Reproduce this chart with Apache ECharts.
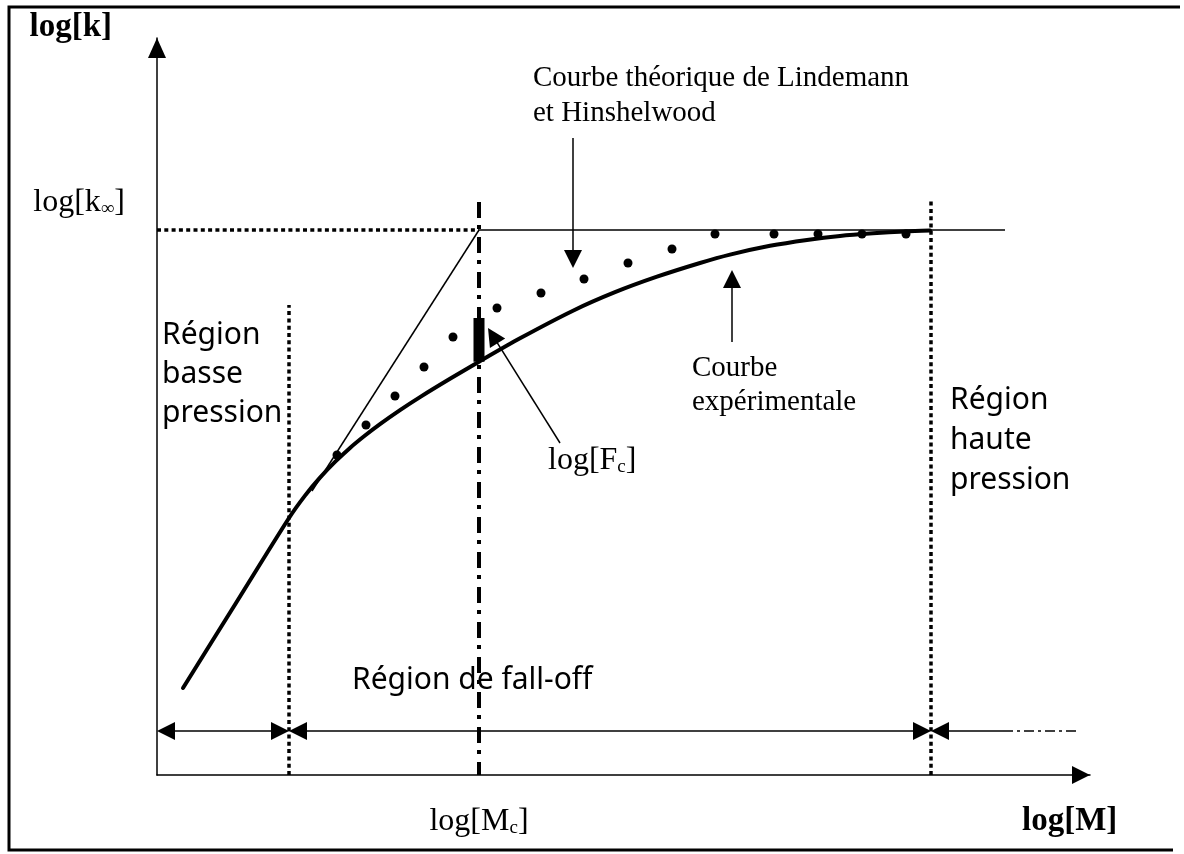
<!DOCTYPE html>
<html lang="fr">
<head>
<meta charset="utf-8">
<title>Régions de pression et courbe de fall-off</title>
<script src="https://cdn.jsdelivr.net/npm/echarts@6.0.0/dist/echarts.min.js"></script>
<style>
  html, body { margin: 0; padding: 0; background: #fff; }
  #chart { width: 1184px; height: 854px; }
</style>
</head>
<body>
<div id="chart"></div>
<script>
// Schematic units: log[M] along x, log[k] along y, both counted from the axis origin.
const X_MAX = 93.3;
const Y_MAX = 73.7;

const LOG_K_INF = 54.5;      // high-pressure limit, log[k∞]
const LOG_MC = 32.2;         // centre of the fall-off region, log[Mc]
const LOW_LIMIT = 13.2;      // end of the low-pressure region
const HIGH_LIMIT = 77.4;     // start of the high-pressure region
const K_INF_LINE_END = 84.8; // end of the solid high-pressure asymptote

const xTickLabels = ['log[M{s|c}]'];
const yTickLabels = ['log[k{s|∞}]'];

// measured (experimental) fall-off curve
const experimentalX = [2.6, 7.9, 13.2, 14.8, 16.3, 17.8, 19.3, 20.8, 22.3, 24.3, 26.3, 29.3, 32.2,
                       36.3, 41.6, 45.8, 50.0, 54.3, 57.3, 61.3, 65.0, 68.3, 71.6, 74.8, 77.3];
const experimentalY = [8.7, 17.2, 25.7, 27.94, 29.74, 31.31, 32.71, 33.95, 35.09, 36.49, 37.79, 39.62, 41.33,
                       43.67, 46.43, 48.28, 49.83, 51.2, 52.04, 52.92, 53.51, 53.91, 54.17, 54.36, 54.46];

// Lindemann–Hinshelwood theoretical curve (dotted)
const lindemannX = [18.0, 20.9, 23.8, 26.7, 29.6, 34.0, 38.4, 42.7, 47.1, 51.5, 55.8, 61.7, 66.1, 70.5, 74.9];
const lindemannY = [32.0, 35.0, 37.9, 40.8, 43.8, 46.7, 48.2, 49.6, 51.2, 52.6, 54.1, 54.1, 54.1, 54.1, 54.1];

// low-pressure asymptote, from where it leaves the curve up to the corner at log[Mc]
const lowAsymptoteX = [15.5, 32.2];
const lowAsymptoteY = [28.4, 54.5];

// log[Fc] bar drawn at log[Mc], standing on the experimental curve
const fcBarY = [41.33, 45.7];

// tops of the vertical boundary lines
const lowLimitTop = 47.0;
const mcLineTop = 57.3;
const highLimitTop = 57.5;

// region arrows along the bottom
const REGION_ARROW_Y = 4.4;
const regionArrowSolidEnd = 84.6;
const regionArrowFadeEnd = 92.0;

// annotation pointers: [tailX, tailY, tipX, tipY]
const pointerLindemann = [41.6, 63.7, 41.6, 50.7];
const pointerExperimental = [57.5, 43.3, 57.5, 50.5];
const pointerFc = [40.3, 33.2, 33.1, 44.7];

const INK = '#000';
const SERIF = '"Liberation Serif", "Times New Roman", serif';
const HAND = '"Comic Sans MS", "Noto Sans", sans-serif';
const GRID = { left: 157, right: 94, top: 38, bottom: 79 };
const HEAD = 18;

const el = document.getElementById('chart');
const chart = echarts.init(el, null, { renderer: 'canvas' });
const pxPerUnit = (el.clientWidth - GRID.left - GRID.right) / X_MAX;

// line-end symbols are centred on the end point: stop the shaft half a head short
function shorten(from, to, head) {
  const dx = to[0] - from[0], dy = to[1] - from[1];
  const len = Math.hypot(dx, dy);
  const back = head / 2 / pxPerUnit;
  return [to[0] - dx / len * back, to[1] - dy / len * back];
}
function pointer(p) {
  const tail = [p[0], p[1]], tip = [p[2], p[3]];
  return { coords: [tail, shorten(tail, tip, HEAD)] };
}
function doubleArrow(x0, x1, y) {
  const a = [x0, y], b = [x1, y];
  return { coords: [shorten(b, a, HEAD), shorten(a, b, HEAD)] };
}
function segment(points, lineStyle, z) {
  return {
    type: 'line', data: points, symbol: 'none', showSymbol: false, silent: true,
    lineStyle: Object.assign({ color: INK, cap: 'butt', width: 1.5 }, lineStyle),
    z: z || 2
  };
}
const dotted = { width: 3.5, type: [4, 3.3] };
const subStyle = { fontFamily: SERIF, fontSize: 19, lineHeight: 13, verticalAlign: 'bottom', color: INK };

function note(text, left, top, font, lineHeight, extra) {
  return {
    type: 'text', left: left, top: top, silent: true,
    style: Object.assign({ text: text, font: font, lineHeight: lineHeight, fill: INK }, extra || {})
  };
}

const option = {
  backgroundColor: '#fff',
  animation: false,
  grid: Object.assign({ containLabel: false, outerBoundsMode: 'none' }, GRID),
  xAxis: {
    type: 'value', min: 0, max: X_MAX,
    axisLine: {
      show: true, onZero: false,
      lineStyle: { color: INK, width: 1.5 },
      symbol: ['none', 'triangle'], symbolSize: [18, 18], symbolOffset: [0, -9]
    },
    axisTick: { show: false },
    splitLine: { show: false },
    axisLabel: {
      show: true, customValues: [LOG_MC], formatter: () => xTickLabels[0],
      margin: 31, color: INK, fontFamily: SERIF, fontSize: 32, lineHeight: 32,
      rich: { s: subStyle }
    },
    name: 'log[M]', nameLocation: 'end', nameGap: -68,
    nameTextStyle: {
      fontFamily: SERIF, fontWeight: 'bold', fontSize: 33, lineHeight: 33, color: INK,
      align: 'left', verticalAlign: 'top', padding: [30, 0, 0, 0]
    }
  },
  yAxis: {
    type: 'value', min: 0, max: Y_MAX,
    axisLine: {
      show: true, onZero: false,
      lineStyle: { color: INK, width: 1.5 },
      symbol: ['none', 'triangle'], symbolSize: [18, 20], symbolOffset: [0, -10]
    },
    axisTick: { show: false },
    splitLine: { show: false },
    axisLabel: {
      show: true, customValues: [LOG_K_INF], formatter: () => yTickLabels[0],
      margin: 32, color: INK, fontFamily: SERIF, fontSize: 32, lineHeight: 32,
      verticalAlign: 'bottom', padding: [0, 0, 11, 0],
      rich: { s: subStyle }
    },
    name: 'log[k]', nameLocation: 'end', nameGap: -6,
    nameTextStyle: {
      fontFamily: SERIF, fontWeight: 'bold', fontSize: 33, lineHeight: 33, color: INK,
      align: 'right', verticalAlign: 'bottom', padding: [0, 45, 0, 0]
    }
  },
  series: [
    // log[k∞]: dotted up to log[Mc], solid beyond
    segment([[0, LOG_K_INF], [LOG_MC, LOG_K_INF]], dotted),
    segment([[LOG_MC, LOG_K_INF], [K_INF_LINE_END, LOG_K_INF]], { width: 1.5 }),
    // low-pressure asymptote
    segment(lowAsymptoteX.map((x, i) => [x, lowAsymptoteY[i]]), { width: 1.5 }),
    // region boundaries
    segment([[LOW_LIMIT, 0], [LOW_LIMIT, lowLimitTop]], dotted),
    segment([[HIGH_LIMIT, 0], [HIGH_LIMIT, highLimitTop]], dotted),
    segment([[LOG_MC, mcLineTop], [LOG_MC, 0]], { width: 4, type: [16, 7, 4, 8] }),
    // experimental curve
    {
      type: 'line', silent: true, symbol: 'none', showSymbol: false,
      smooth: 0.3,
      data: experimentalX.map((x, i) => [x, experimentalY[i]]),
      lineStyle: { color: INK, width: 4, cap: 'round', join: 'round' },
      z: 4
    },
    // Lindemann–Hinshelwood points
    {
      type: 'scatter', silent: true, symbol: 'circle', symbolSize: 9,
      data: lindemannX.map((x, i) => [x, lindemannY[i]]),
      itemStyle: { color: INK, opacity: 1 },
      z: 5
    },
    // log[Fc] bar
    segment(fcBarY.map(y => [LOG_MC, y]), { width: 11 }, 6),
    // pointers to the annotations
    {
      type: 'lines', coordinateSystem: 'cartesian2d', silent: true,
      symbol: ['none', 'triangle'], symbolSize: HEAD,
      effect: { show: false },
      lineStyle: { color: INK, width: 1.5, opacity: 1, curveness: 0 },
      itemStyle: { color: INK },
      data: [pointer(pointerLindemann), pointer(pointerExperimental), pointer(pointerFc)],
      z: 7
    },
    // region extents
    {
      type: 'lines', coordinateSystem: 'cartesian2d', silent: true,
      symbol: ['triangle', 'triangle'], symbolSize: HEAD,
      effect: { show: false },
      lineStyle: { color: INK, width: 1.5, opacity: 1, curveness: 0 },
      itemStyle: { color: INK },
      data: [
        doubleArrow(0, LOW_LIMIT, REGION_ARROW_Y),
        doubleArrow(LOW_LIMIT, HIGH_LIMIT, REGION_ARROW_Y)
      ],
      z: 7
    },
    {
      type: 'lines', coordinateSystem: 'cartesian2d', silent: true,
      symbol: ['none', 'triangle'], symbolSize: HEAD,
      effect: { show: false },
      lineStyle: { color: INK, width: 1.5, opacity: 1, curveness: 0 },
      itemStyle: { color: INK },
      data: [pointer([regionArrowSolidEnd, REGION_ARROW_Y, HIGH_LIMIT, REGION_ARROW_Y])],
      z: 7
    },
    segment([[regionArrowSolidEnd, REGION_ARROW_Y], [regionArrowFadeEnd, REGION_ARROW_Y]], { width: 1.5, type: [10, 4, 3, 4] })
  ],
  graphic: [
    {
      type: 'polyline', silent: true,
      shape: { points: [[1180, 7], [9, 7], [9, 850], [1173, 850]] },
      style: { stroke: INK, lineWidth: 3, fill: null }
    },
    note('Courbe théorique de Lindemann\net Hinshelwood', 533, 61, '29px ' + SERIF, 35),
    note('Courbe\nexpérimentale', 692, 351, '29px ' + SERIF, 34),
    note('log[F{s|c}]', 548, 445, '32px ' + SERIF, 32, { rich: { s: subStyle } }),
    note('Région\nbasse\npression', 162, 316, '30px ' + HAND, 39),
    note('Région\nhaute\npression', 950, 380, '30px ' + HAND, 40),
    note('Région de fall-off', 352, 661, '30px ' + HAND, 39)
  ]
};

chart.setOption(option);
</script>
</body>
</html>
